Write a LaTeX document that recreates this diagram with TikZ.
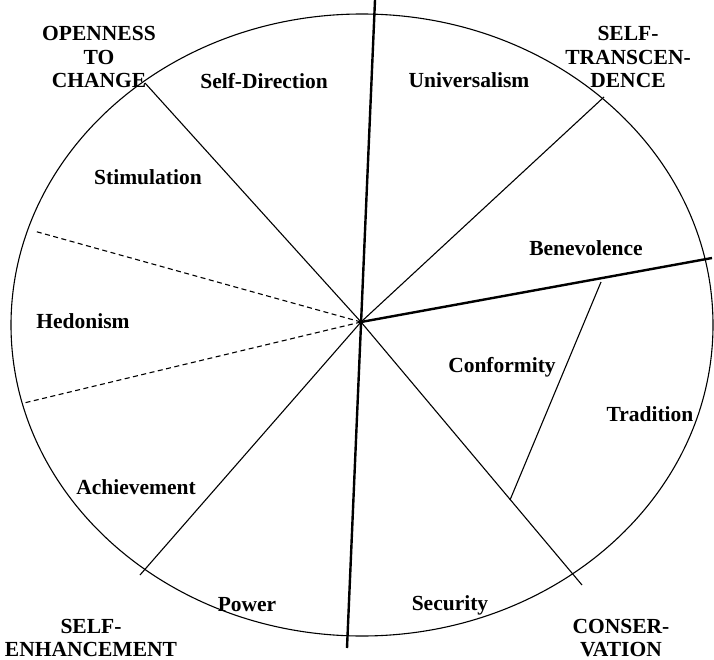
\documentclass[tikz,border=0pt]{standalone}
\usepackage{fontspec}
\setmainfont{Liberation Serif}
\begin{document}
\begin{tikzpicture}[x=1pt,y=-1pt,
  lbl/.style={font=\fontsize{21.5}{23.5}\selectfont\bfseries, inner sep=0pt, align=center},
  thin/.style={line width=1.1pt},
  thick/.style={line width=2.4pt},
  dsh/.style={line width=1.1pt, dash pattern=on 5pt off 3.5pt}]
\useasboundingbox (0,0) rectangle (714,660);
\clip (0,0) rectangle (714,660);
% outline
\draw[thin] (362,325) ellipse [x radius=351, y radius=311];
% centre and ends
\coordinate (C) at (361,322);
\coordinate (top) at (375,0);
\coordinate (bot) at (347,648);
\coordinate (rt) at (712,258);
\coordinate (sd) at (145,83);
\coordinate (st) at (604,97);
\coordinate (ap) at (140,575);
\coordinate (se) at (582,585);
\coordinate (h1) at (34,231);
\coordinate (h2) at (24,403);
\coordinate (tr1) at (601,282);
\coordinate (tr2) at (510,500);
\draw[thick] (top) -- (bot);
\draw[thick] (C) -- (rt);
\draw[thin] (C) -- (sd);
\draw[thin] (C) -- (st);
\draw[thin] (C) -- (ap);
\draw[thin] (C) -- (se);
\draw[thin] (tr1) -- (tr2);
\draw[dsh] (C) -- (h1);
\draw[dsh] (C) -- (h2);
% labels
\node[lbl] (otc) at (99,57) {OPENNESS\\TO\\CHANGE};
\node[lbl] (str) at (628,57) {SELF-\\TRANSCEN-\\DENCE};
\node[lbl] (con) at (621,638) {CONSER-\\VATION};
\node[lbl] (sen) at (91,638) {SELF-\\ENHANCEMENT};
\node[lbl] (sdir) at (264,81) {Self-Direction};
\node[lbl] (stim) at (148,177) {Stimulation};
\node[lbl] (hed) at (83,321) {Hedonism};
\node[lbl] (uni) at (469,80) {Universalism};
\node[lbl] (ben) at (586,248) {Benevolence};
\node[lbl] (conf) at (502,367) {Conformity};
\node[lbl] (trad) at (650,414) {Tradition};
\node[lbl] (sec) at (450,605) {Security};
\node[lbl] (pow) at (247,605) {Power};
\node[lbl] (ach) at (136,487) {Achievement};
\end{tikzpicture}
\end{document}
